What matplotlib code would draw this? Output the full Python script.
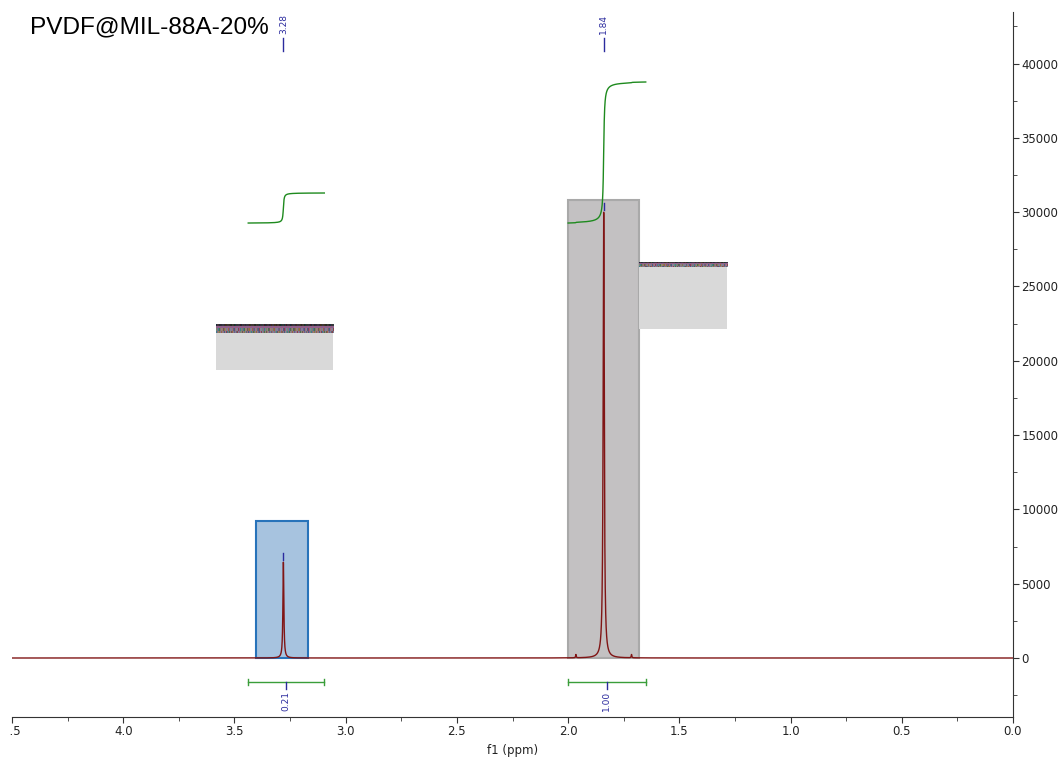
import numpy as np
import matplotlib
matplotlib.use("Agg")
from matplotlib import pyplot as plt
from matplotlib.patches import Rectangle
from matplotlib.transforms import Bbox, TransformedBbox

# Peaks of the 1H spectrum (ppm, intensity, half width at half max)
peak_ppm = [3.28, 1.84]
peak_height = [6450, 30000]
peak_hwhm = [0.0025, 0.003]
peak_labels = ["3.28", "1.84"]

# 13C satellites either side of the big peak
satellite_ppm = [1.965, 1.715]
satellite_height = [220, 220]

# Integral regions (ppm from, ppm to), values and curve levels
integral_from = [3.438, 2.0]
integral_to = [3.096, 1.651]
integral_values = ["0.21", "1.00"]
integral_start = [29270, 29270]
integral_end = [31290, 38760]

# Highlighted regions over the peaks (ppm from, ppm to, top)
region_from = [3.402, 2.0]
region_to = [3.168, 1.683]
region_top = [9220, 30820]

# Grey data boxes (ppm from, ppm to, bottom, top)
box_from = [3.582, 1.683]
box_to = [3.055, 1.287]
box_bottom = [19380, 22140]
box_top = [22477, 26580]
box_strip = [600, 270]

peak_blue = "#2B2B9E"
line_red = "#801515"
green = "#1E8A1E"


def lorentz(x, x0, h, w):
    return h * w ** 2 / ((x - x0) ** 2 + w ** 2)


ppm = np.linspace(4.5, 0.0, 20001)
spectrum = np.zeros_like(ppm)
for x0, h, w in zip(peak_ppm, peak_height, peak_hwhm):
    spectrum += lorentz(ppm, x0, h, w)
for x0, h in zip(satellite_ppm, satellite_height):
    spectrum += lorentz(ppm, x0, h, 0.0015)

fig = plt.figure(figsize=(10.62, 7.58), dpi=100)
ax = fig.add_axes([12 / 1062, 41 / 758, 1001 / 1062, 705 / 758])
ax.set_xlim(4.5, 0.0)
ax.set_ylim(-3970, 43470)

# region highlights behind the trace
fills = [("#A7C3DF", "#2873BA"), ("#C3C1C2", "#A9A9A9")]
for x0, x1, top, (fc, ec) in zip(region_from, region_to, region_top, fills):
    ax.add_patch(Rectangle((x1, 0), x0 - x1, top, facecolor=fc,
                           edgecolor=ec, lw=1.5, zorder=1))

# grey boxes with a speckled strip along the top
for x0, x1, b, t, s in zip(box_from, box_to, box_bottom, box_top, box_strip):
    ax.add_patch(Rectangle((x1, b), x0 - x1, t - b, facecolor="#D9D9D9",
                           edgecolor="none", zorder=1))
    ii, jj = np.mgrid[0:4, 0:120]
    idx = ((ii * 7919 + jj * 104729 + ii * jj * 31) % 97) / 97
    tex = plt.cm.tab20(idx)[..., :3]
    tex = 0.4 * tex + 0.6 * np.array([0.36, 0.32, 0.40])
    tex[0] *= 0.45
    ax.imshow(tex, extent=(x0, x1, t - s, t), aspect="auto",
              interpolation="nearest", zorder=2)

ax.plot(ppm, spectrum, color=line_red, lw=1, zorder=3)

# integral curves and brackets
for a, b, v, y0, y1 in zip(integral_from, integral_to, integral_values,
                           integral_start, integral_end):
    m = (ppm <= a) & (ppm >= b)
    cum = np.cumsum(spectrum[m])
    cum = (cum - cum[0]) / (cum[-1] - cum[0])
    ax.plot(ppm[m], y0 + (y1 - y0) * cum, color=green, lw=1, zorder=4)

    ax.plot([a, b], [-1615, -1615], color="#3A9E3A", lw=1, zorder=4)
    for e in (a, b):
        ax.plot([e, e], [-1830, -1400], color="#3A9E3A", lw=1, zorder=4)
    c = (a + b) / 2
    ax.plot([c, c], [-1615, -2090], color=peak_blue, lw=1, zorder=4)
    ax.text(c, -2190, v, rotation=90, ha="center", va="top",
            fontsize=6.5, color=peak_blue)

# peak picking labels
for x0, h, lab in zip(peak_ppm, peak_height, peak_labels):
    ax.text(x0, 42650, lab, rotation=90, ha="center", va="center",
            fontsize=6.5, color=peak_blue, clip_on=False)
    ax.plot([x0, x0], [40850, 41730], color=peak_blue, lw=1, clip_on=False)
    ax.plot([x0, x0], [h + 150, h + 600], color=peak_blue, lw=1, zorder=4)

# axes styling
for side in ("left", "top"):
    ax.spines[side].set_visible(False)
for side in ("right", "bottom"):
    ax.spines[side].set_color("#333333")
ax.yaxis.tick_right()
ax.set_xticks(np.arange(0, 4.51, 0.5))
ax.set_xticks(np.arange(0, 4.51, 0.25), minor=True)
ax.set_xticklabels([f"{t:.1f}" for t in np.arange(0, 4.51, 0.5)])
ax.set_yticks(np.arange(0, 40001, 5000))
ax.set_yticks(np.arange(-2500, 43000, 2500), minor=True)
ax.tick_params(which="major", length=4, color="#333333", labelsize=8.5,
               pad=2, labelcolor="#222222")
ax.tick_params(which="minor", length=3, color="#333333")
ax.set_xlabel("f1 (ppm)", fontsize=8.5, labelpad=4, color="#222222")

# tick labels do not run past the left end of the axis
clip = TransformedBbox(Bbox([[9.5 / 1062, 0], [1, 1]]), fig.transFigure)
for lab in ax.get_xticklabels():
    lab.set_clip_box(clip)
    lab.set_clip_on(True)

fig.text(30 / 1062, 1 - 27 / 758, "PVDF@MIL-88A-20%", fontsize=17.6,
         family="Liberation Sans", va="center", ha="left")

fig.savefig("out.png", dpi=100)
